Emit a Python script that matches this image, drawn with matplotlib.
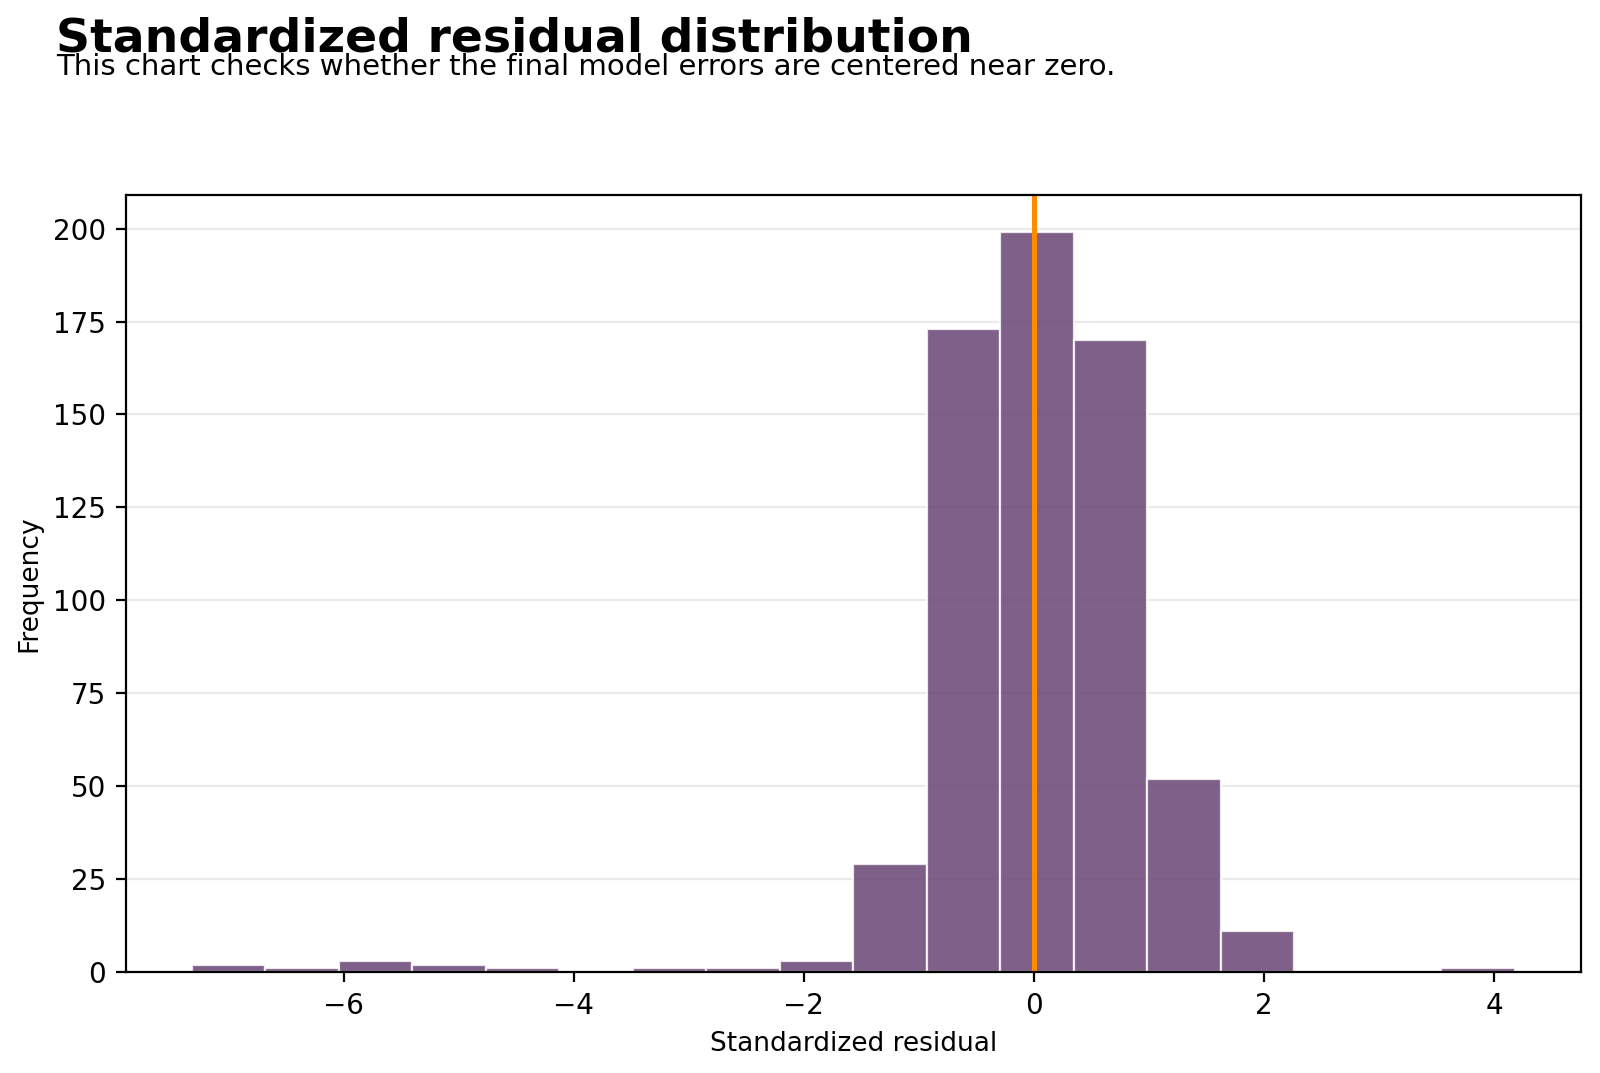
import numpy as np
import matplotlib
matplotlib.use("Agg")
import matplotlib.pyplot as plt

# histogram: 18 equal bins
bin_lo = -7.32
bin_hi = 4.18
counts = [2, 1, 3, 2, 1, 0, 1, 1, 3, 29, 173, 199, 170, 52, 11, 0, 0, 1]
center_line = 0.0

title = "Standardized residual distribution"
subtitle = "This chart checks whether the final model errors are centered near zero."

edges = np.linspace(bin_lo, bin_hi, len(counts) + 1)
centers = (edges[:-1] + edges[1:]) / 2

fig = plt.figure(figsize=(8, 5.365), dpi=200)
ax = fig.add_axes([0.0785, 0.094, 0.9095, 0.724])

ax.grid(axis="y", color="#ebebeb", linewidth=0.8)
ax.set_axisbelow(True)
ax.hist(centers, bins=edges, weights=counts, color="#684473", alpha=0.85,
        edgecolor="white", linewidth=0.8)
ax.axvline(center_line, color="#ff8c00", linewidth=1.8)

ax.set_xlabel("Standardized residual", fontsize=9.5)
ax.set_ylabel("Frequency", fontsize=9.5)
ax.tick_params(labelsize=10)

fig.text(0.035, 0.985, title, fontsize=17, fontweight="bold", va="top", ha="left")
fig.text(0.035, 0.951, subtitle, fontsize=10.5, va="top", ha="left")

fig.savefig("out.png", dpi=200)
